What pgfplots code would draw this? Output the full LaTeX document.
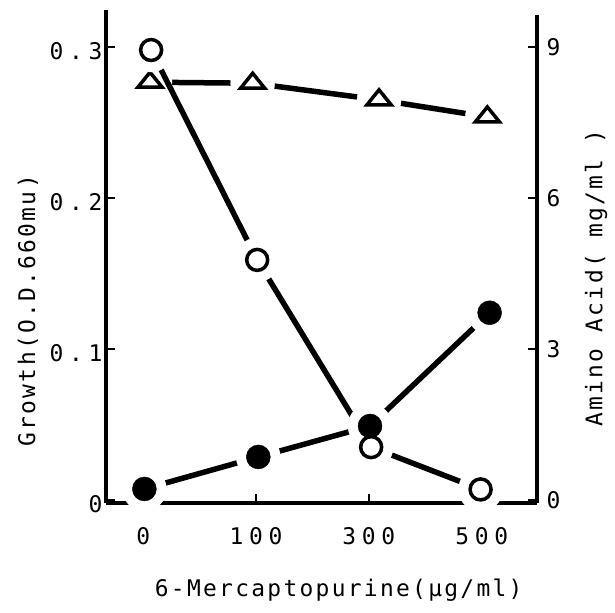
\documentclass[border=0pt]{standalone}
\usepackage{pgfplots}
\pgfplotsset{compat=1.18}
\usepackage{fontspec}
\setmainfont{DejaVu Sans}
\newfontfamily\mono[LetterSpace=10]{DejaVu Sans Mono}
\newfontfamily\monowide[LetterSpace=25]{DejaVu Sans Mono}
\newcommand{\lab}{\mono\fontsize{23}{27}\selectfont}
\newcommand{\tlab}{\monowide\fontsize{23}{27}\selectfont}

\pgfplotstableread{
x y
0.07 0.298
1.01 0.159
2.02 0.035
2.99 0.007
}\opencirc
\pgfplotstableread{
x y
0.01 0.0073
1.02 0.0285
2.01 0.049
3.07 0.124
}\filledcirc
\pgfplotstableread{
x y
0.06 8.30
0.97 8.28
2.09 7.95
3.05 7.61
}\triang

\begin{document}
\begin{tikzpicture}
% right axis with triangles (drawn first)
\begin{axis}[
  name=axR, at={(0,0)}, anchor=south west,
  scale only axis, width=431bp, height=493bp,
  xmin=-0.33, xmax=3.49, ymin=-0.06, ymax=9.735,
  axis x line=none, axis y line*=right,
  axis line style={line width=4bp, -, shorten >=5bp},
  ytick={0,3,6,9}, yticklabels={0,3,6,9},
  tick align=inside, major tick length=9bp,
  every tick/.style={line width=2.5bp, black},
  yticklabel style={font=\tlab, xshift=6bp},
  ylabel={Amino Acid( mg/ml )},
  ylabel style={font=\lab, at={(axis description cs:1.137,0.456)}, anchor=center},
  clip=false,
]
\addplot[line width=5.5bp, line cap=round] table[x=x,y=y] {\triang};
\addplot[white, only marks, mark=*, mark size=22bp, mark options={draw=white, fill=white}] table[x=x,y=y] {\triang};
\addplot[black, only marks, mark=triangle, mark size=10bp, mark options={line width=3.5bp, fill=white, xscale=1.4}] table[x=x,y=y] {\triang};
\end{axis}
% left axis with circles
\begin{axis}[
  name=axL, at={(0,0)}, anchor=south west,
  scale only axis, width=431bp, height=493bp,
  xmin=-0.33, xmax=3.49, ymin=-0.002, ymax=0.3245,
  axis x line*=bottom, axis y line*=left,
  axis line style={line width=4bp, -},
  axis on top,
  xtick={0,1,2,3}, xticklabels={0,100,300,500},
  ytick={0,0.1,0.2,0.3}, yticklabels={0,0.1,0.2,0.3},
  tick align=inside, major tick length=9bp,
  every tick/.style={line width=2.5bp, black},
  yticklabel style={font=\tlab, yshift=-4bp},
  xticklabel style={font=\tlab, yshift=-21bp},
  ylabel={Growth(O.D.660mu)},
  ylabel style={font=\lab, at={(axis description cs:-0.181,0.39)}, anchor=center},
  xlabel={6-Mercaptopurine(μg/ml)},
  xlabel style={font=\lab, at={(axis description cs:0.54,-0.176)}, anchor=center},
  clip=false,
]
\addplot[line width=5.5bp, line cap=round] table[x=x,y=y] {\opencirc};
\addplot[line width=5.5bp, line cap=round] table[x=x,y=y] {\filledcirc};
\addplot[white, only marks, mark=*, mark size=22bp, mark options={draw=white, fill=white}] table[x=x,y=y] {\opencirc};
\addplot[white, only marks, mark=*, mark size=22bp, mark options={draw=white, fill=white}] table[x=x,y=y] {\filledcirc};
\addplot[black, only marks, mark=*, mark size=10.5bp, mark options={line width=3.5bp, draw=black, fill=white}] table[x=x,y=y] {\opencirc};
\addplot[black, only marks, mark=*, mark size=12bp, mark options={draw=black, fill=black}] table[x=x,y=y] {\filledcirc};
\end{axis}
\path ([shift={(-106bp,-110bp)}]axL.south west) rectangle ([shift={(78bp,10bp)}]axL.north east);
\end{tikzpicture}
\end{document}
